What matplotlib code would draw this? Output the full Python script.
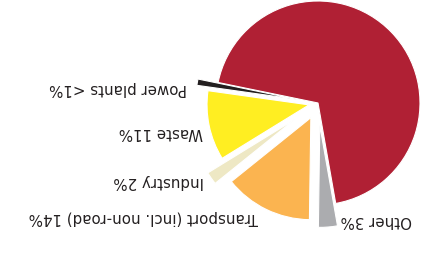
import matplotlib.pyplot as plt

# Slices in drawing order (counter-clockwise), chart is shown rotated by 180 degrees
sectors = ["Energy", "Power plants", "Waste", "Industry",
           "Transport (incl. non-road)", "Other"]
shares = [69, 1, 11, 2, 14, 3]
labels = [None, "Power plants <1%", "Waste 11%", "Industry 2%",
          "Transport (incl. non-road) 14%", "Other 3%"]
colors = ["#B02034", "#231F20", "#FFEE22", "#EEE8C4", "#FBB450", "#ABACAF"]
explode = [0, 0.2, 0.09, 0.28, 0.16, 0.22]

W, H = 427, 264
fig = plt.figure(figsize=(W / 100, H / 100), dpi=100)
ax = fig.add_axes([0, 0, 1, 1])

cx, cy, r = 318, H - 103, 102
# pie() takes explode offsets in data units, so scale by the radius
ax.pie(shares, colors=colors, explode=[e * r for e in explode], startangle=-80,
       counterclock=True, center=(cx, cy), radius=r,
       wedgeprops=dict(edgecolor="white", linewidth=0.8))

# label anchors (right edge of upside-down text, vertical centre), px from top-left
label_pos = [None, (187, 88), (203, 132), (204, 181), (258, 217), (412, 220)]
for lab, pos in zip(labels, label_pos):
    if lab is None:
        continue
    ax.text(pos[0], H - pos[1], lab, rotation=180, ha="right", va="center",
            fontsize=10.8, color="#231F20", family="DejaVu Sans")

ax.set_xlim(0, W)
ax.set_ylim(0, H)
ax.set_aspect("equal")
ax.axis("off")
fig.savefig("out.png", dpi=100)
